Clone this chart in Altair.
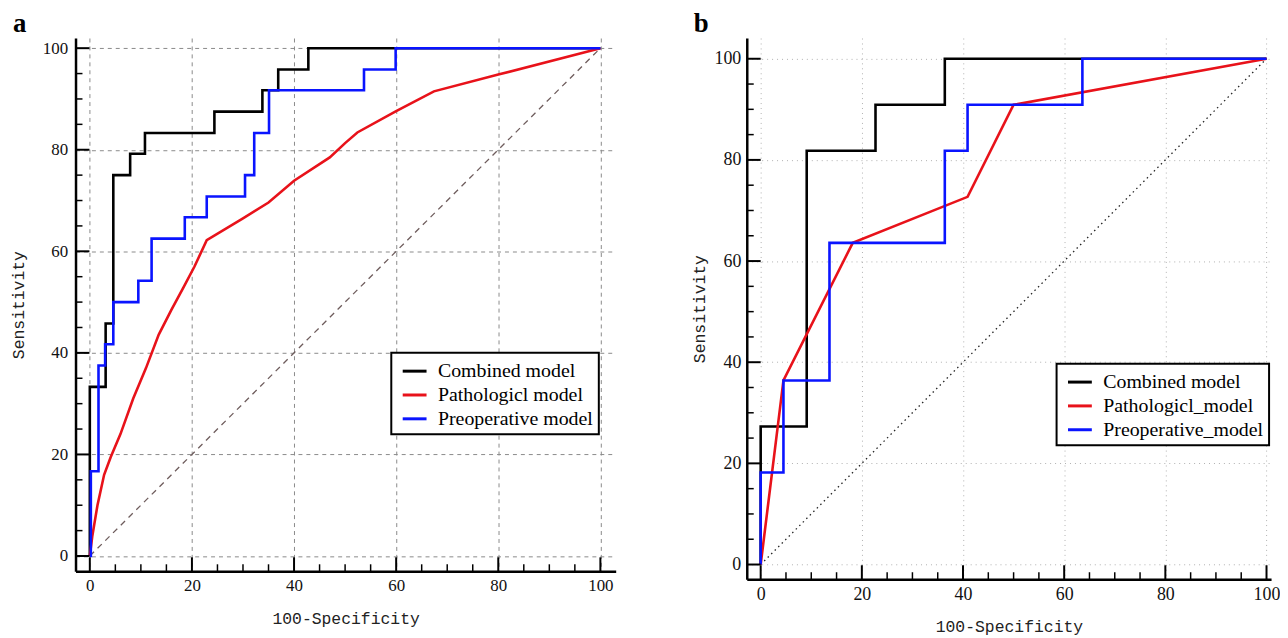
import altair as alt
import pandas as pd

# ---------------- data ----------------
# Panel a
A_COMB_X = [0, 0, 3.1, 4.6, 7.9, 10.8, 24.4, 33.8, 36.9, 42.8, 100]
A_COMB_Y = [0, 33.3, 45.8, 75.0, 79.2, 83.3, 87.5, 91.7, 95.8, 100, 100]
A_PATH_X = [0, 0.5, 1.5, 2.8, 4.1, 6.0, 8.5, 11.0, 13.5, 16.0, 18.4, 20.5, 22.9, 30.0, 35.0, 40.0, 47.0, 50.0, 52.4, 60.0, 67.4, 80.0, 100]
A_PATH_Y = [0, 4.0, 10.0, 16.0, 19.5, 24.0, 31.0, 37.0, 43.6, 48.5, 53.0, 57.0, 62.2, 66.5, 69.6, 73.9, 78.5, 81.3, 83.4, 87.6, 91.5, 94.8, 100]
A_PRE_X = [0, 0.2, 1.7, 3.0, 4.6, 9.5, 12.1, 18.6, 22.9, 30.4, 32.2, 35.1, 53.7, 59.9, 100]
A_PRE_Y = [0, 16.7, 37.5, 41.7, 50.0, 54.2, 62.5, 66.7, 70.8, 75.0, 83.3, 91.7, 95.8, 100, 100]
A_NAMES = ["Combined model", "Pathologicl model", "Preoperative model"]

# Panel b
B_COMB_X = [0, 0, 9.1, 22.7, 36.4, 100]
B_COMB_Y = [0, 27.3, 81.8, 90.9, 100, 100]
B_PATH_X = [0, 4.5, 18.2, 40.9, 50.0, 100]
B_PATH_Y = [0, 36.4, 63.6, 72.7, 90.9, 100]
B_PRE_X = [0, 0, 4.5, 13.6, 36.4, 40.9, 63.6, 100]
B_PRE_Y = [0, 18.2, 36.4, 63.6, 81.8, 90.9, 100, 100]
B_NAMES = ["Combined model", "Pathologicl_model", "Preoperative_model"]

DIAG = [0, 100]
TICKS_MAJOR = [0, 20, 40, 60, 80, 100]
TICKS_MINOR = [5, 10, 15, 25, 30, 35, 45, 50, 55, 65, 70, 75, 85, 90, 95]
COLORS = ["#000000", "#e8121a", "#0a14ff"]


def cdf(xs, ys, name):
    return pd.DataFrame({"x": xs, "y": ys, "model": name, "i": list(range(len(xs)))})


def panel(letter, curves, names, xdom, ydom, w, h, grid_dash, diag_dash, diag_color,
          legend_xy, ytp, ylp, xlp, xtp, label_size, grid_color):
    xs = alt.Scale(domain=xdom, nice=False, zero=False)
    ys = alt.Scale(domain=ydom, nice=False, zero=False)
    common = dict(values=TICKS_MAJOR, ticks=False, domainColor="black", domainWidth=2.5,
                  grid=True, gridColor=grid_color, gridDash=grid_dash, gridWidth=1,
                  labelFont="Liberation Serif", labelFontSize=label_size, labelColor="#111",
                  titleFont="Liberation Mono", titleFontSize=16.5, titleFontWeight="normal",
                  titleColor="#222", format="d", labelFlush=False, labelOverlap=False)
    xaxis = alt.Axis(title="100-Specificity", labelPadding=xlp, titlePadding=xtp, **common)
    yaxis = alt.Axis(title="Sensitivity", labelPadding=ylp, titlePadding=ytp, **common)

    diag = alt.Chart(pd.DataFrame({"x": DIAG, "y": DIAG})).mark_line(
        color=diag_color, strokeWidth=1.3, strokeDash=diag_dash
    ).encode(x=alt.X("x:Q", scale=xs, axis=xaxis), y=alt.Y("y:Q", scale=ys, axis=yaxis))

    layers = [diag]
    for (cx, cy, interp), name in zip(curves, names):
        d = cdf(cx, cy, name)
        layers.append(
            alt.Chart(d).mark_line(strokeWidth=2.6, interpolate=interp).encode(
                x=alt.X("x:Q", scale=xs, axis=xaxis),
                y=alt.Y("y:Q", scale=ys, axis=yaxis),
                order="i:Q",
                color=alt.Color(
                    "model:N",
                    scale=alt.Scale(domain=names, range=COLORS),
                    legend=alt.Legend(
                        orient="none", legendX=legend_xy[0], legendY=legend_xy[1], title=None,
                        symbolType="stroke", symbolSize=576, symbolStrokeWidth=3,
                        symbolOffset=5,
                        labelFont="Liberation Serif", labelFontSize=20, labelColor="black",
                        labelOffset=10, strokeColor="black", fillColor="white",
                        padding=5, rowPadding=0, labelLimit=400,
                    ),
                ),
            )
        )

    ymaj = alt.Chart(pd.DataFrame({"v": TICKS_MAJOR})).mark_rule(color="black", strokeWidth=2).encode(
        y=alt.Y("v:Q", scale=ys, axis=yaxis), x=alt.value(0), x2=alt.value(14))
    ymin = alt.Chart(pd.DataFrame({"v": TICKS_MINOR})).mark_rule(color="black", strokeWidth=1.5).encode(
        y=alt.Y("v:Q", scale=ys, axis=yaxis), x=alt.value(0), x2=alt.value(7))
    xmaj = alt.Chart(pd.DataFrame({"v": TICKS_MAJOR})).mark_rule(color="black", strokeWidth=2).encode(
        x=alt.X("v:Q", scale=xs, axis=xaxis), y=alt.value(h), y2=alt.value(h - 14))
    xmin = alt.Chart(pd.DataFrame({"v": TICKS_MINOR})).mark_rule(color="black", strokeWidth=1.5).encode(
        x=alt.X("v:Q", scale=xs, axis=xaxis), y=alt.value(h), y2=alt.value(h - 7))
    layers += [ymaj, ymin, xmaj, xmin]

    return alt.layer(*layers).properties(
        width=w, height=h,
        title=alt.TitleParams(letter, anchor="start", frame="bounds", font="Liberation Serif",
                              fontSize=27, fontWeight="bold", color="black", offset=0, dx=2),
    )


pa = panel(
    "a",
    [(A_COMB_X, A_COMB_Y, "step-after"), (A_PATH_X, A_PATH_Y, "linear"), (A_PRE_X, A_PRE_Y, "step-after")],
    A_NAMES, [-2.8, 103], [-3, 102], 544, 537,
    [4, 4], [6, 5], "#6e5c5c", (318, 317), 15.5, 8, 6, 18, 17, "#8a8a8a",
)
pb = panel(
    "b",
    [(B_COMB_X, B_COMB_Y, "step-after"), (B_PATH_X, B_PATH_Y, "linear"), (B_PRE_X, B_PRE_Y, "step-after")],
    B_NAMES, [-2.75, 100.9], [-2.9, 104.1], 528, 545,
    [1, 4], [1.5, 3.5], "#222222", (312, 328), 6.5, 6, 6, 16, 18, "#b0b0b0",
)

chart = alt.hconcat(pa, pb, spacing=76).resolve_scale(color="independent").properties(
    padding={"left": 3, "top": 0, "right": 0, "bottom": 0}
).configure_view(stroke=None).configure_legend(strokeWidth=2)

chart.save("out.html", embed_options={"renderer": "svg", "actions": False})
